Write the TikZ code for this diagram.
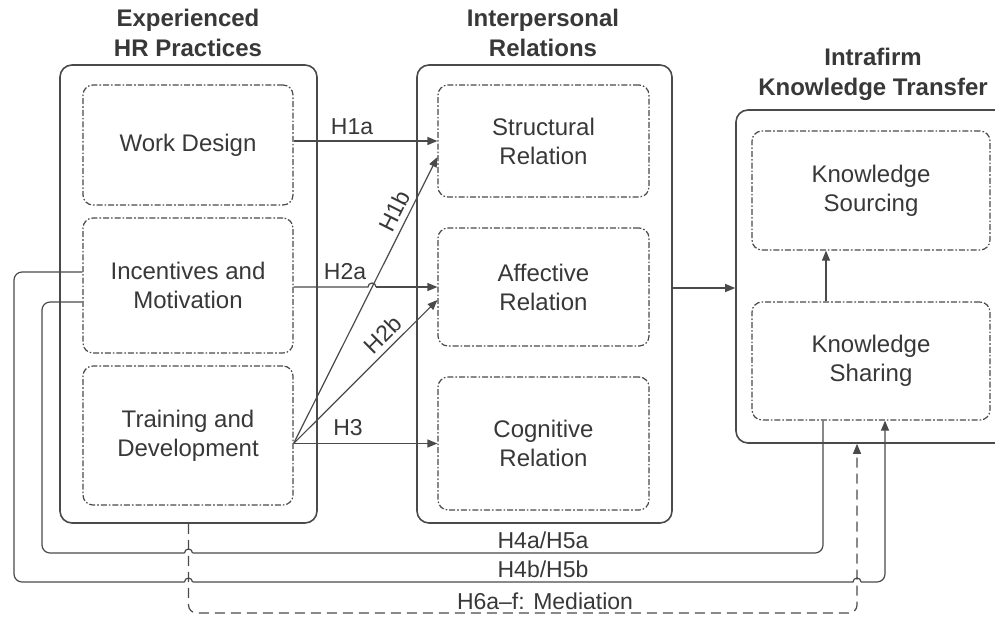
\documentclass[tikz,border=0pt]{standalone}
\usepackage{fontspec}
\setmainfont{Liberation Sans}
\usetikzlibrary{arrows.meta,calc}
\definecolor{ink}{HTML}{383838}
\definecolor{edge}{HTML}{4A4A4A}
\begin{document}
\begin{tikzpicture}[x=0.5pt,y=-0.5pt,
  outerbox/.style={draw=edge, line width=0.8pt, rounded corners=6pt, inner sep=0pt},
  innerbox/.style={draw=edge, line width=0.6pt, rounded corners=5pt,
    dash pattern=on 3pt off 1pt on 0.8pt off 1pt, align=center,
    font=\fontsize{12}{14.5}\selectfont, text=ink, inner sep=0pt},
  heading/.style={align=center, font=\bfseries\fontsize{12}{15}\selectfont, text=ink},
  conn/.style={draw=edge, line width=0.6pt},
  arr/.style={conn, -{Triangle[length=5pt,width=4pt]}},
  medline/.style={conn, dash pattern=on 5pt off 3pt},
  lab/.style={font=\fontsize{11.5}{13}\selectfont, text=ink, inner sep=1pt}]
\clip (0,0) rectangle (995,617);
\useasboundingbox (0,0) rectangle (995,617);
\fill[white] (0,0) rectangle (995,617);

% headings
\node[heading] (h1) at (188,33) {Experienced\\HR Practices};
\node[heading] (h2) at (543,33) {Interpersonal\\Relations};
\node[heading] (h3) at (873,74) {Intrafirm\\Knowledge Transfer};

% outer boxes
\node[outerbox, minimum width=128.5pt, minimum height=229pt] (HR) at (188.5,294) {};
\node[outerbox, minimum width=127.5pt, minimum height=229pt] (IR) at (544.5,294) {};
\node[outerbox, minimum width=137pt, minimum height=166.5pt] (IKT) at (873,276.5) {};

% inner boxes
\node[innerbox, minimum width=105pt, minimum height=60pt] (WD) at (188,145) {Work Design};
\node[innerbox, minimum width=105pt, minimum height=67.5pt] (IM) at (188,285.5) {Incentives and\\Motivation};
\node[innerbox, minimum width=105pt, minimum height=69.5pt] (TD) at (188,435.5) {Training and\\Development};

\node[innerbox, minimum width=105.5pt, minimum height=56pt] (SR) at (543.5,141) {Structural\\Relation};
\node[innerbox, minimum width=105.5pt, minimum height=59pt] (AR) at (543.5,287) {Affective\\Relation};
\node[innerbox, minimum width=105.5pt, minimum height=66.5pt] (CR) at (543.5,443.5) {Cognitive\\Relation};

\node[innerbox, minimum width=119pt, minimum height=59.5pt] (KSo) at (871,190.5) {Knowledge\\Sourcing};
\node[innerbox, minimum width=119pt, minimum height=59pt] (KSh) at (871,361) {Knowledge\\Sharing};

% hypotheses arrows
\draw[arr] (WD.east |- SR.west) -- (SR.west);
\node[lab] (l1a) at (352,127) {H1a};
\draw[conn] (IM.east |- AR.west) -- (368,287) arc[start angle=180,end angle=0,radius=2pt];
\draw[arr] (376,287) -- (AR.west);
\node[lab] (l2a) at (345,272) {H2a};
\draw[arr] (TD.east |- CR.west) -- (CR.west);
\node[lab] (l3) at (348,428) {H3};
\draw[arr] (TD.east |- CR.west) -- ($(SR.west)+(0,16)$)
  node[lab, pos=0.79, sloped, above=1.5pt] (l1b) {H1b};
\draw[arr] (TD.east |- CR.west) -- ($(AR.west)+(0,13)$)
  node[lab, pos=0.69, sloped, above=1.5pt] (l2b) {H2b};

\draw[arr] (IR.east |- 0,288) -- (IKT.west |- 0,288);
\draw[arr] (KSh.north -| 826,0) -- (KSo.south -| 826,0);

% H4a/H5a
\draw[conn, rounded corners=4pt] (IM.west |- 0,302) -- (42,302) -- (42,553) -- (184.5,553);
\draw[conn] (184.5,553) arc[start angle=180,end angle=0,radius=2pt];
\draw[conn, rounded corners=4pt] (192.5,553) -- (823,553) -- (KSh.south -| 823,0);
\node[lab] (l4a) at (543,540) {H4a/H5a};

% H4b/H5b
\draw[conn, rounded corners=4pt] (IM.west |- 0,272) -- (14,272) -- (14,582) -- (184.5,582);
\draw[conn] (184.5,582) arc[start angle=180,end angle=0,radius=2pt];
\draw[conn] (192.5,582) -- (853,582) arc[start angle=180,end angle=0,radius=2pt];
\draw[arr, rounded corners=4pt] (861,582) -- (885,582) -- (KSh.south -| 885,0);
\node[lab] (l4b) at (543,569) {H4b/H5b};

% H6 mediation
\draw[medline, rounded corners=4pt, -{Triangle[length=5pt,width=4pt]}]
  (HR.south) -- (188.5,613) -- (857,613) -- (IKT.south -| 857,0);
\node[lab] (l6) at (545,601) {H6a–f: Mediation};
\end{tikzpicture}
\end{document}
